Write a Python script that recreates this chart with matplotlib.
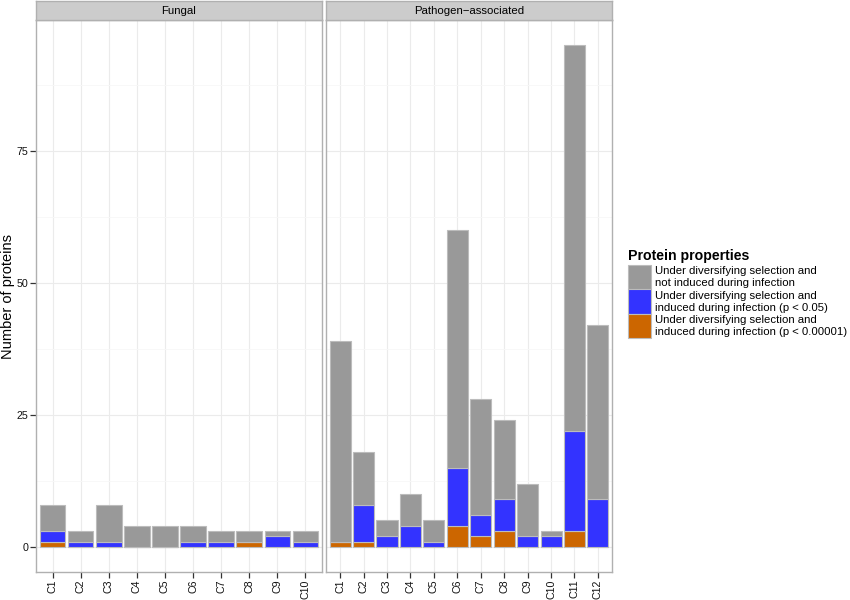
import numpy as np
import matplotlib
matplotlib.use('Agg')
import matplotlib.pyplot as plt
from matplotlib.patches import Rectangle

plt.rcParams['font.family'] = ['Liberation Sans', 'DejaVu Sans']

# Fungal panel
fungal_cats = ['C1', 'C2', 'C3', 'C4', 'C5', 'C6', 'C7', 'C8', 'C9', 'C10']
fungal_strong = [1, 0, 0, 0, 0, 0, 0, 1, 0, 0]   # p < 0.00001
fungal_weak = [2, 1, 1, 0, 0, 1, 1, 0, 2, 1]     # p < 0.05
fungal_not = [5, 2, 7, 4, 4, 3, 2, 2, 1, 2]      # not induced

# Pathogen-associated panel
path_cats = ['C1', 'C2', 'C3', 'C4', 'C5', 'C6', 'C7', 'C8', 'C9', 'C10', 'C11', 'C12']
path_strong = [1, 1, 0, 0, 0, 4, 2, 3, 0, 0, 3, 0]
path_weak = [0, 7, 2, 4, 1, 11, 4, 6, 2, 2, 19, 9]
path_not = [38, 10, 3, 6, 4, 45, 22, 15, 10, 1, 73, 33]

panel_titles = ['Fungal', 'Pathogen\u2212associated']
legend_labels = [('Under diversifying selection and', 'not induced during infection'),
                 ('Under diversifying selection and', 'induced during infection (p < 0.05)'),
                 ('Under diversifying selection and', 'induced during infection (p < 0.00001)')]
col_not = '#999999'
col_weak = '#3333ff'
col_strong = '#cc6600'
edge = '#bcbcbc'

W, H = 850, 600
fig = plt.figure(figsize=(8.5, 6), dpi=100)

panels = [
    (fungal_cats, fungal_strong, fungal_weak, fungal_not, 36),
    (path_cats, path_strong, path_weak, path_not, 326),
]
top_px, bot_px, pw = 20, 572, 286

for i, (cats, s, w, n, x0) in enumerate(panels):
    ax = fig.add_axes([x0 / W, 1 - bot_px / H, pw / W, (bot_px - top_px) / H])
    x = np.arange(1, len(cats) + 1)
    s = np.array(s); w = np.array(w); n = np.array(n)
    kw = dict(width=0.9, edgecolor=edge, linewidth=0.8, zorder=3)
    ax.bar(x, s, color=col_strong, **kw)
    ax.bar(x, w, bottom=s, color=col_weak, **kw)
    ax.bar(x, n, bottom=s + w, color=col_not, **kw)
    ax.set_xlim(0.4, len(cats) + 0.6)
    ax.set_ylim(-4.75, 99.75)
    ax.set_xticks(x)
    ax.set_xticklabels(cats, rotation=90)
    ax.set_yticks([0, 25, 50, 75])
    ax.set_yticks([12.5, 37.5, 62.5, 87.5], minor=True)
    ax.grid(True, which='major', color='#ebebeb', linewidth=0.8, zorder=0)
    ax.grid(True, which='minor', axis='y', color='#f7f7f7', linewidth=0.6, zorder=0)
    ax.set_axisbelow(True)
    ax.tick_params(axis='both', which='major', length=4, width=0.9, color='#333333',
                   pad=1.5, labelsize=7.7, labelcolor='#111111')
    ax.tick_params(axis='y', which='minor', length=0)
    if i == 1:
        ax.tick_params(axis='y', which='major', left=False, labelleft=False)
    for sp in ax.spines.values():
        sp.set_color('#b0b0b0')
        sp.set_linewidth(1.0)

    # facet strip
    sax = fig.add_axes([x0 / W, 1 - top_px / H, pw / W, 19 / H])
    sax.set_xticks([]); sax.set_yticks([])
    sax.set_facecolor('#cccccc')
    for sp in sax.spines.values():
        sp.set_color('#b0b0b0')
        sp.set_linewidth(1.0)
    sax.text(0.5, 0.5, panel_titles[i], ha='center', va='center', fontsize=8.2,
             transform=sax.transAxes)

fig.text(8 / W, 1 - 296 / H, 'Number of proteins', rotation=90, ha='center',
         va='center', fontsize=10.5)

# legend drawn by hand so the keys are the right size
fig.text(628 / W, 1 - 256 / H, 'Protein properties', ha='left', va='center',
         fontsize=10.2, fontweight='bold')
key_cols = [col_not, col_weak, col_strong]
key_top = 265
key_h = 24.3
for k, (c, (l1, l2)) in enumerate(zip(key_cols, legend_labels)):
    ty = key_top + k * key_h
    fig.add_artist(Rectangle((628 / W, 1 - (ty + key_h) / H), 23 / W, key_h / H,
                             transform=fig.transFigure, facecolor=c,
                             edgecolor=edge, linewidth=0.8))
    fig.text(655 / W, 1 - (ty + 6.3) / H, l1, ha='left', va='center', fontsize=8.2)
    fig.text(655 / W, 1 - (ty + 18.3) / H, l2, ha='left', va='center', fontsize=8.2)

fig.savefig('out.png', dpi=100)
